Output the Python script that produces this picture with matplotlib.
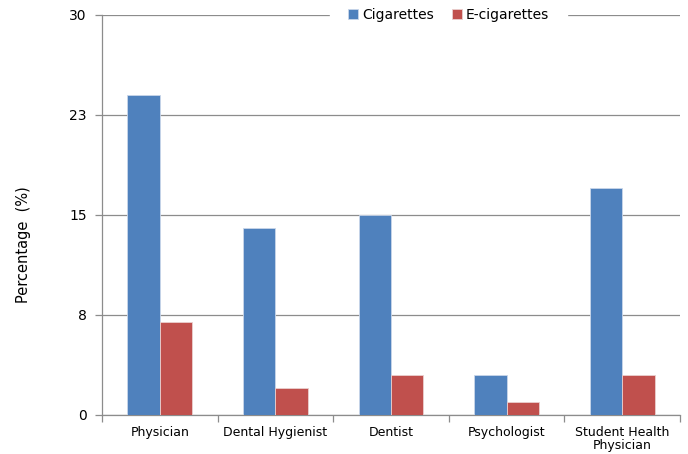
import numpy as np
import matplotlib
matplotlib.use("Agg")
import matplotlib.pyplot as plt
from matplotlib.ticker import FixedLocator, FuncFormatter

categories = ["Physician", "Dental Hygienist", "Dentist", "Psychologist", "Student Health\nPhysician"]
cigarettes = [24.0, 14.0, 15.0, 3.0, 17.0]
e_cigarettes = [7.0, 2.0, 3.0, 1.0, 3.0]
y_ticks = [0, 7.5, 15, 22.5, 30]

plt.rcParams['font.family'] = ['DejaVu Sans']

fig = plt.figure(figsize=(6.88, 4.54), dpi=100)
ax = fig.add_axes([102/688, 1 - 415/454, 578/688, 400/454])

x = np.arange(len(categories))
w = 0.28
ax.bar(x - w/2, cigarettes, w, color='#4f81bd', edgecolor='#c9d6ea', linewidth=0.6,
       label='Cigarettes', zorder=3)
ax.bar(x + w/2, e_cigarettes, w, color='#c0504d', edgecolor='#ead0cf', linewidth=0.6,
       label='E-cigarettes', zorder=3)

ax.set_xlim(-0.5, len(categories) - 0.5)
ax.set_ylim(0, 30)
ax.yaxis.set_major_locator(FixedLocator(y_ticks))
ax.yaxis.set_major_formatter(FuncFormatter(lambda v, p: "%d" % int(v + 0.5)))
ax.grid(axis='y', color='#8c8c8c', linewidth=0.9, zorder=0)

ax.set_xticks(x)
ax.set_xticklabels(categories, fontsize=9, linespacing=1.0)
ax.set_xticks(np.arange(len(categories) + 1) - 0.5, minor=True)
ax.tick_params(axis='x', which='major', length=0, pad=8)
ax.tick_params(axis='x', which='minor', length=5, color='#8c8c8c', width=0.9)
ax.tick_params(axis='y', length=5, color='#8c8c8c', width=0.9, labelsize=10, pad=6)

for s in ['top', 'right']:
    ax.spines[s].set_visible(False)
for s in ['left', 'bottom']:
    ax.spines[s].set_color('#8c8c8c')
    ax.spines[s].set_linewidth(0.9)

ax.set_ylabel("Percentage  (%)", fontsize=10.5)
ax.yaxis.set_label_coords(-0.123, 0.425)

leg = ax.legend(loc='center', bbox_to_anchor=(0.6, 1.0), ncol=2, frameon=True,
                fontsize=10, handlelength=0.7, handleheight=0.7, handletextpad=0.3,
                columnspacing=1.3, borderpad=0.3, borderaxespad=0, fancybox=False)
leg.get_frame().set_edgecolor('white')
leg.get_frame().set_facecolor('white')
leg.get_frame().set_alpha(1)
leg.get_frame().set_boxstyle('square', pad=1.0)
leg.set_zorder(5)

fig.savefig("out.png", dpi=100)
